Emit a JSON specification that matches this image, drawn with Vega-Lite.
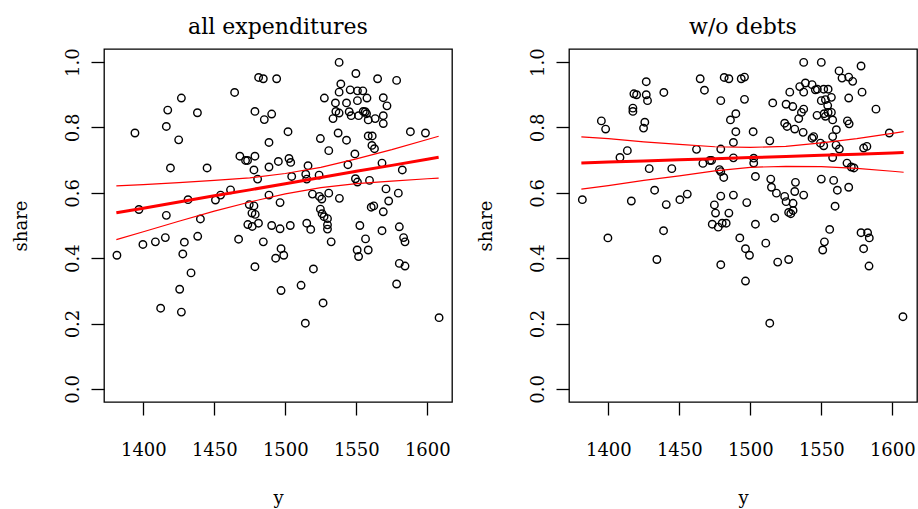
{
  "$schema": "https://vega.github.io/schema/vega-lite/v6.json",
  "autosize": {"type": "none"},
  "padding": {"left": 104, "top": 49, "right": 814, "bottom": 460},
  "background": "white",
  "bounds": "flush",
  "spacing": 117,
  "config": {
    "font": "DejaVu Serif",
    "view": {"stroke": "black", "strokeWidth": 1.3},
    "axis": {
      "domain": false, "grid": false, "tickColor": "black", "tickSize": 13, "tickWidth": 1.3,
      "labelFont": "DejaVu Serif", "labelFontSize": 18, "labelColor": "black",
      "titleFont": "DejaVu Serif", "titleFontSize": 18, "titleFontWeight": "normal", "titleColor": "black"
    },
    "title": {"font": "DejaVu Serif", "fontSize": 22, "fontWeight": "normal", "color": "black", "anchor": "middle", "offset": 9}
  },
  "datasets": {
    "pts": [
      {"panel":"a","y":1394.1,"share":0.783},{"panel":"a","y":1426.8,"share":0.890},{"panel":"a","y":1417.2,"share":0.853},{"panel":"a","y":1416.2,"share":0.803},{"panel":"a","y":1424.9,"share":0.762},{"panel":"a","y":1438.1,"share":0.845},{"panel":"a","y":1464.3,"share":0.907},{"panel":"a","y":1481.2,"share":0.953},{"panel":"a","y":1484.5,"share":0.949},{"panel":"a","y":1493.9,"share":0.949},{"panel":"a","y":1478.6,"share":0.849},{"panel":"a","y":1485.2,"share":0.824},{"panel":"a","y":1490.4,"share":0.841},{"panel":"a","y":1488.5,"share":0.754},{"panel":"a","y":1419.1,"share":0.676},{"panel":"a","y":1444.9,"share":0.676},{"panel":"a","y":1468.0,"share":0.712},{"panel":"a","y":1472.0,"share":0.699},{"panel":"a","y":1473.4,"share":0.699},{"panel":"a","y":1478.6,"share":0.712},{"panel":"a","y":1477.9,"share":0.670},{"panel":"a","y":1488.5,"share":0.679},{"panel":"a","y":1495.1,"share":0.696},{"panel":"a","y":1480.5,"share":0.642},{"panel":"a","y":1461.4,"share":0.609},{"panel":"a","y":1454.4,"share":0.593},{"panel":"a","y":1450.8,"share":0.578},{"panel":"a","y":1431.5,"share":0.579},{"panel":"a","y":1396.9,"share":0.549},{"panel":"a","y":1416.2,"share":0.531},{"panel":"a","y":1488.5,"share":0.593},{"panel":"a","y":1496.3,"share":0.570},{"panel":"a","y":1474.6,"share":0.564},{"panel":"a","y":1477.9,"share":0.560},{"panel":"a","y":1476.5,"share":0.538},{"panel":"a","y":1478.8,"share":0.534},{"panel":"a","y":1440.2,"share":0.520},{"panel":"a","y":1473.6,"share":0.503},{"panel":"a","y":1476.7,"share":0.497},{"panel":"a","y":1481.1,"share":0.507},{"panel":"a","y":1490.4,"share":0.500},{"panel":"a","y":1496.3,"share":0.490},{"panel":"a","y":1399.7,"share":0.442},{"panel":"a","y":1408.5,"share":0.450},{"panel":"a","y":1415.5,"share":0.463},{"panel":"a","y":1428.9,"share":0.449},{"panel":"a","y":1427.8,"share":0.413},{"panel":"a","y":1438.3,"share":0.467},{"panel":"a","y":1381.4,"share":0.409},{"panel":"a","y":1433.6,"share":0.355},{"panel":"a","y":1425.6,"share":0.305},{"panel":"a","y":1412.2,"share":0.247},{"panel":"a","y":1426.8,"share":0.235},{"panel":"a","y":1467.1,"share":0.458},{"panel":"a","y":1484.5,"share":0.450},{"panel":"a","y":1478.6,"share":0.374},{"panel":"a","y":1493.2,"share":0.400},{"panel":"a","y":1497.0,"share":0.429},{"panel":"a","y":1497.0,"share":0.301},{"panel":"a","y":1498.9,"share":0.409},{"panel":"a","y":1519.8,"share":0.367},{"panel":"a","y":1511.1,"share":0.317},{"panel":"a","y":1526.6,"share":0.263},{"panel":"a","y":1514.1,"share":0.201},
      {"panel":"a","y":1537.9,"share":0.999},{"panel":"a","y":1549.7,"share":0.965},{"panel":"a","y":1565.0,"share":0.949},{"panel":"a","y":1578.4,"share":0.944},{"panel":"a","y":1539.1,"share":0.933},{"panel":"a","y":1537.9,"share":0.908},{"panel":"a","y":1545.7,"share":0.915},{"panel":"a","y":1550.8,"share":0.912},{"panel":"a","y":1554.6,"share":0.912},{"panel":"a","y":1527.5,"share":0.890},{"panel":"a","y":1557.5,"share":0.890},{"panel":"a","y":1550.8,"share":0.882},{"panel":"a","y":1569.0,"share":0.891},{"panel":"a","y":1535.3,"share":0.875},{"panel":"a","y":1543.1,"share":0.875},{"panel":"a","y":1571.6,"share":0.866},{"panel":"a","y":1535.6,"share":0.849},{"panel":"a","y":1537.9,"share":0.844},{"panel":"a","y":1545.0,"share":0.848},{"panel":"a","y":1546.4,"share":0.836},{"panel":"a","y":1533.6,"share":0.827},{"panel":"a","y":1551.6,"share":0.836},{"panel":"a","y":1554.9,"share":0.849},{"panel":"a","y":1556.3,"share":0.848},{"panel":"a","y":1557.2,"share":0.842},{"panel":"a","y":1558.4,"share":0.823},{"panel":"a","y":1563.3,"share":0.827},{"panel":"a","y":1569.0,"share":0.836},{"panel":"a","y":1569.0,"share":0.812},{"panel":"a","y":1501.9,"share":0.787},{"panel":"a","y":1524.7,"share":0.766},{"panel":"a","y":1537.2,"share":0.783},{"panel":"a","y":1543.1,"share":0.761},{"panel":"a","y":1558.4,"share":0.774},{"panel":"a","y":1561.2,"share":0.774},{"panel":"a","y":1561.0,"share":0.745},{"panel":"a","y":1562.8,"share":0.735},{"panel":"a","y":1588.1,"share":0.787},{"panel":"a","y":1598.7,"share":0.783},{"panel":"a","y":1530.6,"share":0.729},{"panel":"a","y":1549.0,"share":0.719},{"panel":"a","y":1502.6,"share":0.705},{"panel":"a","y":1503.8,"share":0.693},{"panel":"a","y":1516.0,"share":0.683},{"panel":"a","y":1544.1,"share":0.686},{"panel":"a","y":1568.1,"share":0.691},{"panel":"a","y":1582.4,"share":0.670},{"panel":"a","y":1504.5,"share":0.650},{"panel":"a","y":1514.4,"share":0.657},{"panel":"a","y":1515.1,"share":0.642},{"panel":"a","y":1523.8,"share":0.654},{"panel":"a","y":1549.4,"share":0.643},{"panel":"a","y":1550.8,"share":0.633},{"panel":"a","y":1559.3,"share":0.638},{"panel":"a","y":1519.1,"share":0.596},{"panel":"a","y":1524.0,"share":0.589},{"panel":"a","y":1525.7,"share":0.581},{"panel":"a","y":1530.6,"share":0.599},{"panel":"a","y":1538.1,"share":0.583},{"panel":"a","y":1570.9,"share":0.612},{"panel":"a","y":1579.6,"share":0.599},{"panel":"a","y":1572.8,"share":0.575},{"panel":"a","y":1560.5,"share":0.556},{"panel":"a","y":1562.3,"share":0.560},{"panel":"a","y":1569.0,"share":0.542},{"panel":"a","y":1524.7,"share":0.550},{"panel":"a","y":1525.9,"share":0.536},{"panel":"a","y":1527.3,"share":0.527},{"panel":"a","y":1529.7,"share":0.521},{"panel":"a","y":1529.7,"share":0.502},{"panel":"a","y":1529.7,"share":0.489},{"panel":"a","y":1515.1,"share":0.507},{"panel":"a","y":1517.9,"share":0.488},{"panel":"a","y":1503.5,"share":0.500},{"panel":"a","y":1532.3,"share":0.450},{"panel":"a","y":1552.5,"share":0.500},{"panel":"a","y":1568.1,"share":0.484},{"panel":"a","y":1580.3,"share":0.496},{"panel":"a","y":1583.3,"share":0.463},{"panel":"a","y":1584.3,"share":0.450},{"panel":"a","y":1556.5,"share":0.459},{"panel":"a","y":1550.6,"share":0.425},{"panel":"a","y":1551.6,"share":0.405},{"panel":"a","y":1558.4,"share":0.425},{"panel":"a","y":1580.3,"share":0.384},{"panel":"a","y":1584.3,"share":0.376},{"panel":"a","y":1578.4,"share":0.321},{"panel":"a","y":1608.3,"share":0.218},
      {"panel":"b","y":1381.7,"share":0.579},{"panel":"b","y":1395.1,"share":0.820},{"panel":"b","y":1398.1,"share":0.795},{"panel":"b","y":1413.4,"share":0.729},{"panel":"b","y":1408.2,"share":0.708},{"panel":"b","y":1416.2,"share":0.575},{"panel":"b","y":1417.3,"share":0.859},{"panel":"b","y":1417.3,"share":0.849},{"panel":"b","y":1418.0,"share":0.903},{"panel":"b","y":1419.9,"share":0.900},{"panel":"b","y":1426.7,"share":0.940},{"panel":"b","y":1426.7,"share":0.900},{"panel":"b","y":1427.6,"share":0.882},{"panel":"b","y":1425.7,"share":0.816},{"panel":"b","y":1424.8,"share":0.798},{"panel":"b","y":1439.1,"share":0.907},{"panel":"b","y":1428.8,"share":0.674},{"panel":"b","y":1444.7,"share":0.674},{"panel":"b","y":1432.6,"share":0.608},{"panel":"b","y":1440.8,"share":0.564},{"panel":"b","y":1450.4,"share":0.579},{"panel":"b","y":1455.6,"share":0.596},{"panel":"b","y":1464.7,"share":0.949},{"panel":"b","y":1467.7,"share":0.914},{"panel":"b","y":1481.6,"share":0.953},{"panel":"b","y":1484.9,"share":0.949},{"panel":"b","y":1493.6,"share":0.949},{"panel":"b","y":1495.9,"share":0.954},{"panel":"b","y":1479.2,"share":0.882},{"panel":"b","y":1495.9,"share":0.886},{"panel":"b","y":1489.8,"share":0.842},{"panel":"b","y":1486.0,"share":0.823},{"panel":"b","y":1489.8,"share":0.787},{"panel":"b","y":1502.0,"share":0.787},{"panel":"b","y":1488.1,"share":0.754},{"panel":"b","y":1462.1,"share":0.733},{"panel":"b","y":1479.2,"share":0.734},{"panel":"b","y":1488.1,"share":0.707},{"panel":"b","y":1471.5,"share":0.699},{"panel":"b","y":1472.7,"share":0.699},{"panel":"b","y":1466.6,"share":0.690},{"panel":"b","y":1502.4,"share":0.706},{"panel":"b","y":1502.4,"share":0.691},{"panel":"b","y":1478.3,"share":0.671},{"panel":"b","y":1479.2,"share":0.665},{"panel":"b","y":1481.3,"share":0.647},{"panel":"b","y":1503.6,"share":0.650},{"panel":"b","y":1479.2,"share":0.590},{"panel":"b","y":1488.1,"share":0.593},{"panel":"b","y":1474.7,"share":0.563},{"panel":"b","y":1475.5,"share":0.538},{"panel":"b","y":1484.9,"share":0.538},{"panel":"b","y":1497.5,"share":0.570},{"panel":"b","y":1399.7,"share":0.462},{"panel":"b","y":1438.9,"share":0.484},{"panel":"b","y":1434.2,"share":0.396},{"panel":"b","y":1473.2,"share":0.504},{"panel":"b","y":1477.4,"share":0.495},{"panel":"b","y":1480.2,"share":0.507},{"panel":"b","y":1483.0,"share":0.507},{"panel":"b","y":1492.6,"share":0.462},{"panel":"b","y":1496.6,"share":0.429},{"panel":"b","y":1499.4,"share":0.409},{"panel":"b","y":1479.2,"share":0.380},{"panel":"b","y":1496.6,"share":0.330},{"panel":"b","y":1503.6,"share":0.504},{"panel":"b","y":1513.7,"share":0.759},{"panel":"b","y":1514.4,"share":0.642},{"panel":"b","y":1514.9,"share":0.617},{"panel":"b","y":1518.4,"share":0.599},{"panel":"b","y":1524.2,"share":0.589},{"panel":"b","y":1525.2,"share":0.573},{"panel":"b","y":1530.1,"share":0.568},{"panel":"b","y":1527.0,"share":0.540},{"panel":"b","y":1528.5,"share":0.536},{"panel":"b","y":1530.1,"share":0.546},{"panel":"b","y":1531.8,"share":0.632},{"panel":"b","y":1531.3,"share":0.604},{"panel":"b","y":1537.6,"share":0.593},{"panel":"b","y":1517.2,"share":0.523},{"panel":"b","y":1537.6,"share":0.999},{"panel":"b","y":1550.0,"share":0.999},{"panel":"b","y":1562.5,"share":0.973},{"panel":"b","y":1564.6,"share":0.951},{"panel":"b","y":1569.3,"share":0.954},{"panel":"b","y":1572.1,"share":0.941},{"panel":"b","y":1578.0,"share":0.988},{"panel":"b","y":1578.7,"share":0.908},{"panel":"b","y":1569.3,"share":0.890},{"panel":"b","y":1588.5,"share":0.856},{"panel":"b","y":1597.9,"share":0.783},{"panel":"b","y":1527.8,"share":0.908},{"panel":"b","y":1534.8,"share":0.925},{"panel":"b","y":1538.8,"share":0.936},{"panel":"b","y":1543.5,"share":0.931},{"panel":"b","y":1545.8,"share":0.915},{"panel":"b","y":1547.2,"share":0.917},{"panel":"b","y":1537.6,"share":0.908},{"panel":"b","y":1551.7,"share":0.917},{"panel":"b","y":1554.8,"share":0.917},{"panel":"b","y":1557.1,"share":0.892},{"panel":"b","y":1552.9,"share":0.885},{"panel":"b","y":1550.0,"share":0.882},{"panel":"b","y":1515.8,"share":0.875},{"panel":"b","y":1525.2,"share":0.871},{"panel":"b","y":1529.9,"share":0.864},{"panel":"b","y":1537.6,"share":0.856},{"panel":"b","y":1536.0,"share":0.846},{"panel":"b","y":1534.1,"share":0.827},{"panel":"b","y":1554.5,"share":0.867},{"panel":"b","y":1554.8,"share":0.846},{"panel":"b","y":1557.1,"share":0.846},{"panel":"b","y":1552.0,"share":0.842},{"panel":"b","y":1552.9,"share":0.834},{"panel":"b","y":1558.0,"share":0.823},{"panel":"b","y":1547.0,"share":0.837},{"panel":"b","y":1568.4,"share":0.820},{"panel":"b","y":1569.6,"share":0.811},{"panel":"b","y":1524.2,"share":0.813},{"panel":"b","y":1525.9,"share":0.803},{"panel":"b","y":1531.3,"share":0.795},{"panel":"b","y":1537.2,"share":0.785},{"panel":"b","y":1560.6,"share":0.793},{"panel":"b","y":1558.0,"share":0.772},{"panel":"b","y":1543.5,"share":0.767},{"panel":"b","y":1544.6,"share":0.772},{"panel":"b","y":1549.4,"share":0.752},{"panel":"b","y":1551.7,"share":0.744},{"panel":"b","y":1560.4,"share":0.746},{"panel":"b","y":1562.7,"share":0.734},{"panel":"b","y":1579.8,"share":0.737},{"panel":"b","y":1582.1,"share":0.742},{"panel":"b","y":1558.0,"share":0.708},{"panel":"b","y":1568.1,"share":0.691},{"panel":"b","y":1571.1,"share":0.679},{"panel":"b","y":1573.0,"share":0.676},{"panel":"b","y":1550.0,"share":0.642},{"panel":"b","y":1558.7,"share":0.638},{"panel":"b","y":1561.3,"share":0.608},{"panel":"b","y":1569.3,"share":0.617},{"panel":"b","y":1559.7,"share":0.559},{"panel":"b","y":1510.9,"share":0.446},{"panel":"b","y":1519.3,"share":0.388},{"panel":"b","y":1527.0,"share":0.396},{"panel":"b","y":1513.7,"share":0.201},{"panel":"b","y":1555.9,"share":0.488},{"panel":"b","y":1552.2,"share":0.450},{"panel":"b","y":1551.0,"share":0.425},{"panel":"b","y":1578.0,"share":0.478},{"panel":"b","y":1582.6,"share":0.478},{"panel":"b","y":1583.8,"share":0.462},{"panel":"b","y":1579.8,"share":0.429},{"panel":"b","y":1583.6,"share":0.376},{"panel":"b","y":1607.5,"share":0.221}
    ],
    "fit": [
      {"panel":"a","y":1381,"fit":0.539,"lwr":0.457,"upr":0.621},{"panel":"a","y":1400,"fit":0.553,"lwr":0.481,"upr":0.625},{"panel":"a","y":1425,"fit":0.572,"lwr":0.513,"upr":0.631},{"panel":"a","y":1450,"fit":0.591,"lwr":0.544,"upr":0.638},{"panel":"a","y":1475,"fit":0.609,"lwr":0.572,"upr":0.646},{"panel":"a","y":1500,"fit":0.628,"lwr":0.597,"upr":0.659},{"panel":"a","y":1525,"fit":0.647,"lwr":0.616,"upr":0.678},{"panel":"a","y":1550,"fit":0.666,"lwr":0.628,"upr":0.704},{"panel":"a","y":1575,"fit":0.684,"lwr":0.636,"upr":0.732},{"panel":"a","y":1600,"fit":0.703,"lwr":0.643,"upr":0.763},{"panel":"a","y":1608,"fit":0.709,"lwr":0.645,"upr":0.773},
      {"panel":"b","y":1381,"fit":0.691,"lwr":0.611,"upr":0.771},{"panel":"b","y":1400,"fit":0.694,"lwr":0.622,"upr":0.766},{"panel":"b","y":1425,"fit":0.697,"lwr":0.638,"upr":0.756},{"panel":"b","y":1450,"fit":0.701,"lwr":0.652,"upr":0.748},{"panel":"b","y":1475,"fit":0.704,"lwr":0.667,"upr":0.741},{"panel":"b","y":1500,"fit":0.708,"lwr":0.678,"upr":0.739},{"panel":"b","y":1525,"fit":0.711,"lwr":0.681,"upr":0.742},{"panel":"b","y":1550,"fit":0.715,"lwr":0.680,"upr":0.753},{"panel":"b","y":1575,"fit":0.718,"lwr":0.675,"upr":0.766},{"panel":"b","y":1600,"fit":0.722,"lwr":0.666,"upr":0.782},{"panel":"b","y":1608,"fit":0.723,"lwr":0.663,"upr":0.787}
    ]
  },
  "hconcat": [
    {
      "width": 348, "height": 353,
      "title": "all expenditures",
      "layer": [
        {
          "data": {"name": "pts"},
          "transform": [{"filter": "datum.panel === 'a'"}],
          "mark": {"type": "point", "shape": "circle", "filled": false, "stroke": "black", "strokeWidth": 1.4, "size": 56, "opacity": 1},
          "encoding": {
            "x": {"field": "y", "type": "quantitative", "scale": {"domain": [1372.3, 1617.4], "nice": false, "zero": false}, "axis": {"values": [1400, 1450, 1500, 1550, 1600], "title": "y", "labelPadding": 26, "titlePadding": 30, "format": "d"}},
            "y": {"field": "share", "type": "quantitative", "scale": {"domain": [-0.04, 1.04], "nice": false, "zero": false}, "axis": {"values": [0, 0.2, 0.4, 0.6, 0.8, 1.0], "format": ".1f", "labelAngle": -90, "labelPadding": 9, "title": "share", "titlePadding": 34}}
          }
        },
        {
          "data": {"name": "fit"},
          "transform": [{"filter": "datum.panel === 'a'"}],
          "mark": {"type": "line", "color": "red", "strokeWidth": 1.2},
          "encoding": {"x": {"field": "y", "type": "quantitative"}, "y": {"field": "upr", "type": "quantitative"}}
        },
        {
          "data": {"name": "fit"},
          "transform": [{"filter": "datum.panel === 'a'"}],
          "mark": {"type": "line", "color": "red", "strokeWidth": 1.2},
          "encoding": {"x": {"field": "y", "type": "quantitative"}, "y": {"field": "lwr", "type": "quantitative"}}
        },
        {
          "data": {"name": "fit"},
          "transform": [{"filter": "datum.panel === 'a'"}],
          "mark": {"type": "line", "color": "red", "strokeWidth": 3},
          "encoding": {"x": {"field": "y", "type": "quantitative"}, "y": {"field": "fit", "type": "quantitative"}}
        }
      ]
    },
    {
      "width": 348, "height": 353,
      "title": "w/o debts",
      "layer": [
        {
          "data": {"name": "pts"},
          "transform": [{"filter": "datum.panel === 'b'"}],
          "mark": {"type": "point", "shape": "circle", "filled": false, "stroke": "black", "strokeWidth": 1.4, "size": 56, "opacity": 1},
          "encoding": {
            "x": {"field": "y", "type": "quantitative", "scale": {"domain": [1372.3, 1617.4], "nice": false, "zero": false}, "axis": {"values": [1400, 1450, 1500, 1550, 1600], "title": "y", "labelPadding": 26, "titlePadding": 30, "format": "d"}},
            "y": {"field": "share", "type": "quantitative", "scale": {"domain": [-0.04, 1.04], "nice": false, "zero": false}, "axis": {"values": [0, 0.2, 0.4, 0.6, 0.8, 1.0], "format": ".1f", "labelAngle": -90, "labelPadding": 9, "title": "share", "titlePadding": 34}}
          }
        },
        {
          "data": {"name": "fit"},
          "transform": [{"filter": "datum.panel === 'b'"}],
          "mark": {"type": "line", "color": "red", "strokeWidth": 1.2},
          "encoding": {"x": {"field": "y", "type": "quantitative"}, "y": {"field": "upr", "type": "quantitative"}}
        },
        {
          "data": {"name": "fit"},
          "transform": [{"filter": "datum.panel === 'b'"}],
          "mark": {"type": "line", "color": "red", "strokeWidth": 1.2},
          "encoding": {"x": {"field": "y", "type": "quantitative"}, "y": {"field": "lwr", "type": "quantitative"}}
        },
        {
          "data": {"name": "fit"},
          "transform": [{"filter": "datum.panel === 'b'"}],
          "mark": {"type": "line", "color": "red", "strokeWidth": 3},
          "encoding": {"x": {"field": "y", "type": "quantitative"}, "y": {"field": "fit", "type": "quantitative"}}
        }
      ]
    }
  ]
}
